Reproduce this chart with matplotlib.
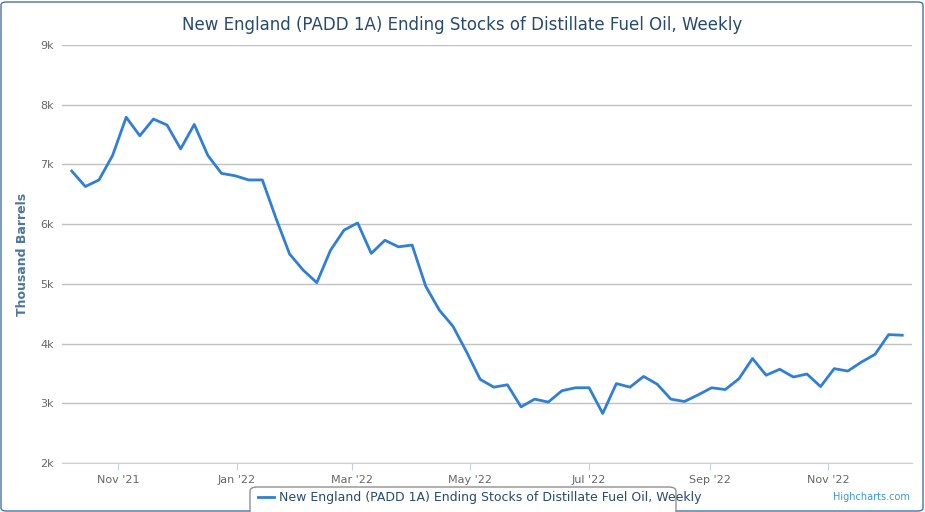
import datetime as dt
import matplotlib
matplotlib.use("Agg")
import matplotlib.pyplot as plt
import matplotlib.dates as mdates
from matplotlib.patches import FancyBboxPatch
from matplotlib.lines import Line2D

start = dt.date(2021, 10, 8)
stocks = [6.89, 6.63, 6.74, 7.15, 7.79, 7.48, 7.76, 7.66, 7.26, 7.67,
          7.15, 6.85, 6.81, 6.74, 6.74, 6.10, 5.50, 5.23, 5.02, 5.56,
          5.90, 6.02, 5.51, 5.73, 5.62, 5.65, 4.96, 4.56, 4.29, 3.86,
          3.40, 3.27, 3.31, 2.94, 3.07, 3.02, 3.21, 3.26, 3.26, 2.83,
          3.33, 3.27, 3.45, 3.32, 3.07, 3.03, 3.14, 3.26, 3.23, 3.41,
          3.75, 3.47, 3.57, 3.44, 3.49, 3.28, 3.58, 3.54, 3.69, 3.82,
          4.15, 4.14]
stocks = [v * 1000 for v in stocks]
dates = [start + dt.timedelta(weeks=i) for i in range(len(stocks))]
tick_dates = [dt.date(2021, 11, 1), dt.date(2022, 1, 1), dt.date(2022, 3, 1),
              dt.date(2022, 5, 1), dt.date(2022, 7, 1), dt.date(2022, 9, 1),
              dt.date(2022, 11, 1)]
title = "New England (PADD 1A) Ending Stocks of Distillate Fuel Oil, Weekly"

W, H = 925, 512
fig = plt.figure(figsize=(W / 100, H / 100), dpi=100)
ax = fig.add_axes([62 / W, 1 - 463 / H, 850 / W, 418 / H])

ax.plot(dates, stocks, color="#2f7ed8", lw=2)
ax.set_ylim(2000, 9000)
ax.set_yticks(range(2000, 9001, 1000))
ax.set_yticklabels([f"{v // 1000}k" for v in range(2000, 9001, 1000)])
ax.set_xlim(dt.date(2021, 10, 3), dt.date(2022, 12, 14))
ax.set_xticks(tick_dates)
ax.xaxis.set_major_formatter(mdates.DateFormatter("%b '%y"))
ax.grid(axis="y", color="#c0c0c0", lw=1)
ax.set_axisbelow(True)
for s in ["top", "right", "left"]:
    ax.spines[s].set_visible(False)
ax.spines["bottom"].set_color("#c0d0e0")
ax.tick_params(axis="y", length=0, labelsize=8, labelcolor="#666666", pad=6)
ax.tick_params(axis="x", length=5, color="#c0d0e0", labelsize=8, labelcolor="#666666")
ax.set_ylabel("Thousand Barrels", color="#4d759e", fontsize=9, fontweight="bold", labelpad=8)

fig.text(0.5, 1 - 25 / H, title, ha="center", va="center", fontsize=12, color="#274b6d")

# outer border
fig.patches.append(FancyBboxPatch((1 / W, 1 / H), (W - 3) / W, (H - 3) / H,
                                  boxstyle="round,pad=0,rounding_size=0.006",
                                  transform=fig.transFigure, fill=False,
                                  ec="#4572a7", lw=1))
# legend
fig.patches.append(FancyBboxPatch((250 / W, 1 - 515 / H), 426 / W, 28 / H,
                                  boxstyle="round,pad=0,rounding_size=0.008",
                                  transform=fig.transFigure, fc="white",
                                  ec="#909090", lw=1))
fig.lines.append(Line2D([258 / W, 274 / W], [1 - 497 / H] * 2, color="#2f7ed8",
                        lw=2, transform=fig.transFigure))
fig.text(279 / W, 1 - 497 / H, title, fontsize=9, color="#274b6d", va="center")
fig.text(910 / W, 1 - 497 / H, "Highcharts.com", fontsize=7, color="#3b9ad9",
         ha="right", va="center")

fig.savefig("out.png", dpi=100)
